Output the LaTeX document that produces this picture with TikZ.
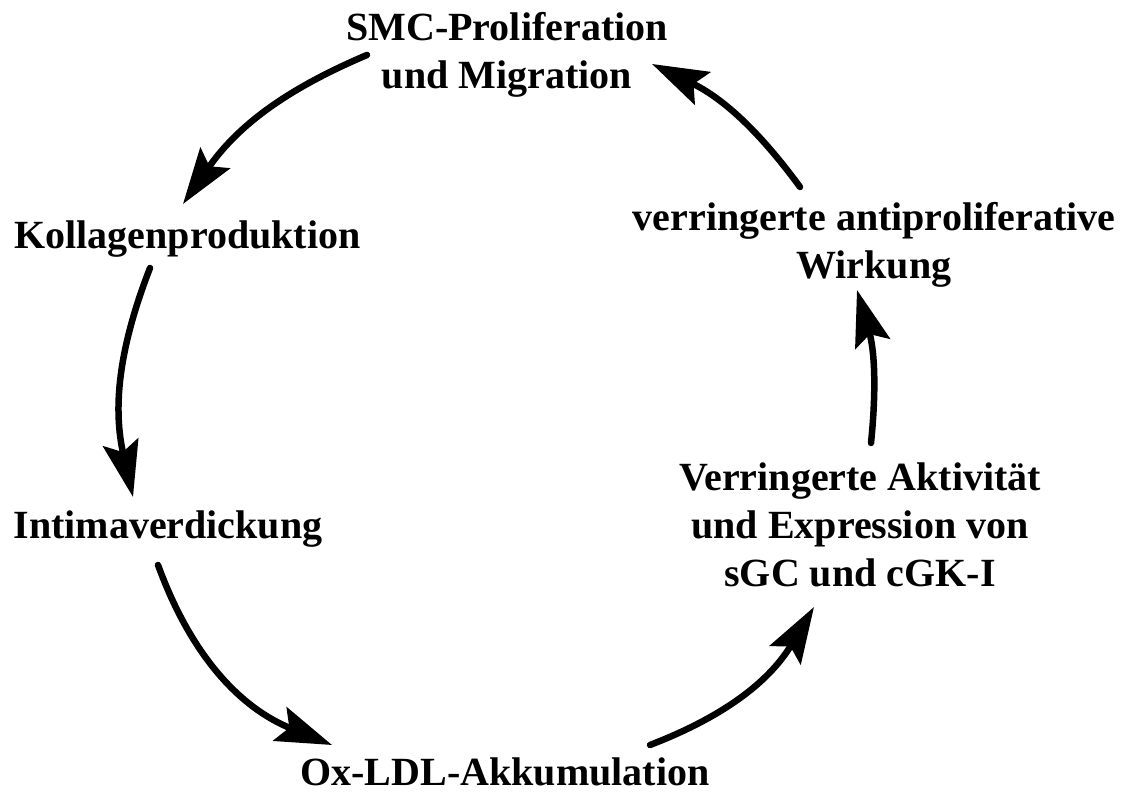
\documentclass[tikz,border=0pt]{standalone}
\usepackage{fontspec}
\setmainfont{Liberation Serif}
\usetikzlibrary{arrows.meta,positioning}

\begin{document}
\begin{tikzpicture}[x=1pt,y=1pt,
stage/.style={font=\fontsize{40}{48}\selectfont\bfseries,align=center,inner sep=0pt},
arr/.style={-{Stealth[length=56pt,width=36pt,inset=10pt]},line width=6.5pt,line cap=round}
]
\useasboundingbox (0,0) rectangle (1127,794);
% cycle stages
\node[stage] (smc) at (507,739) {SMC-Proliferation\\und Migration};
\node[stage] (koll) at (187.5,555) {Kollagenproduktion};
\node[stage] (intima) at (168,265) {Intimaverdickung};
\node[stage] (ox) at (505,22) {Ox-LDL-Akkumulation};
\node[stage] (verr) at (860,269.5) {Verringerte Aktivität\\und Expression von\\sGC und cGK-I};
\node[stage] (anti) at (874,549.5) {verringerte antiproliferative\\Wirkung};
% arrows around the cycle
\draw[arr] ([shift={(-140,0)}]smc.center) to[bend right=16] ([shift={(-4.5,35)}]koll.center);
\draw[arr] ([shift={(-37.5,-29)}]koll.center) to[bend right=17] ([shift={(-35,32)}]intima.center);
\draw[arr] ([shift={(-10,-36)}]intima.center) to[bend right=24] ([shift={(-173,27)}]ox.center);
\draw[arr] ([shift={(145,27)}]ox.center) to[bend right=19] ([shift={(-46,-82.5)}]verr.center);
\draw[arr] ([shift={(11,81.5)}]verr.center) to[bend right=11] ([shift={(-17,-45.5)}]anti.center);
\draw[arr] ([shift={(-74,57.5)}]anti.center) to[bend right=14] ([shift={(145,-9)}]smc.center);
\end{tikzpicture}
\end{document}
